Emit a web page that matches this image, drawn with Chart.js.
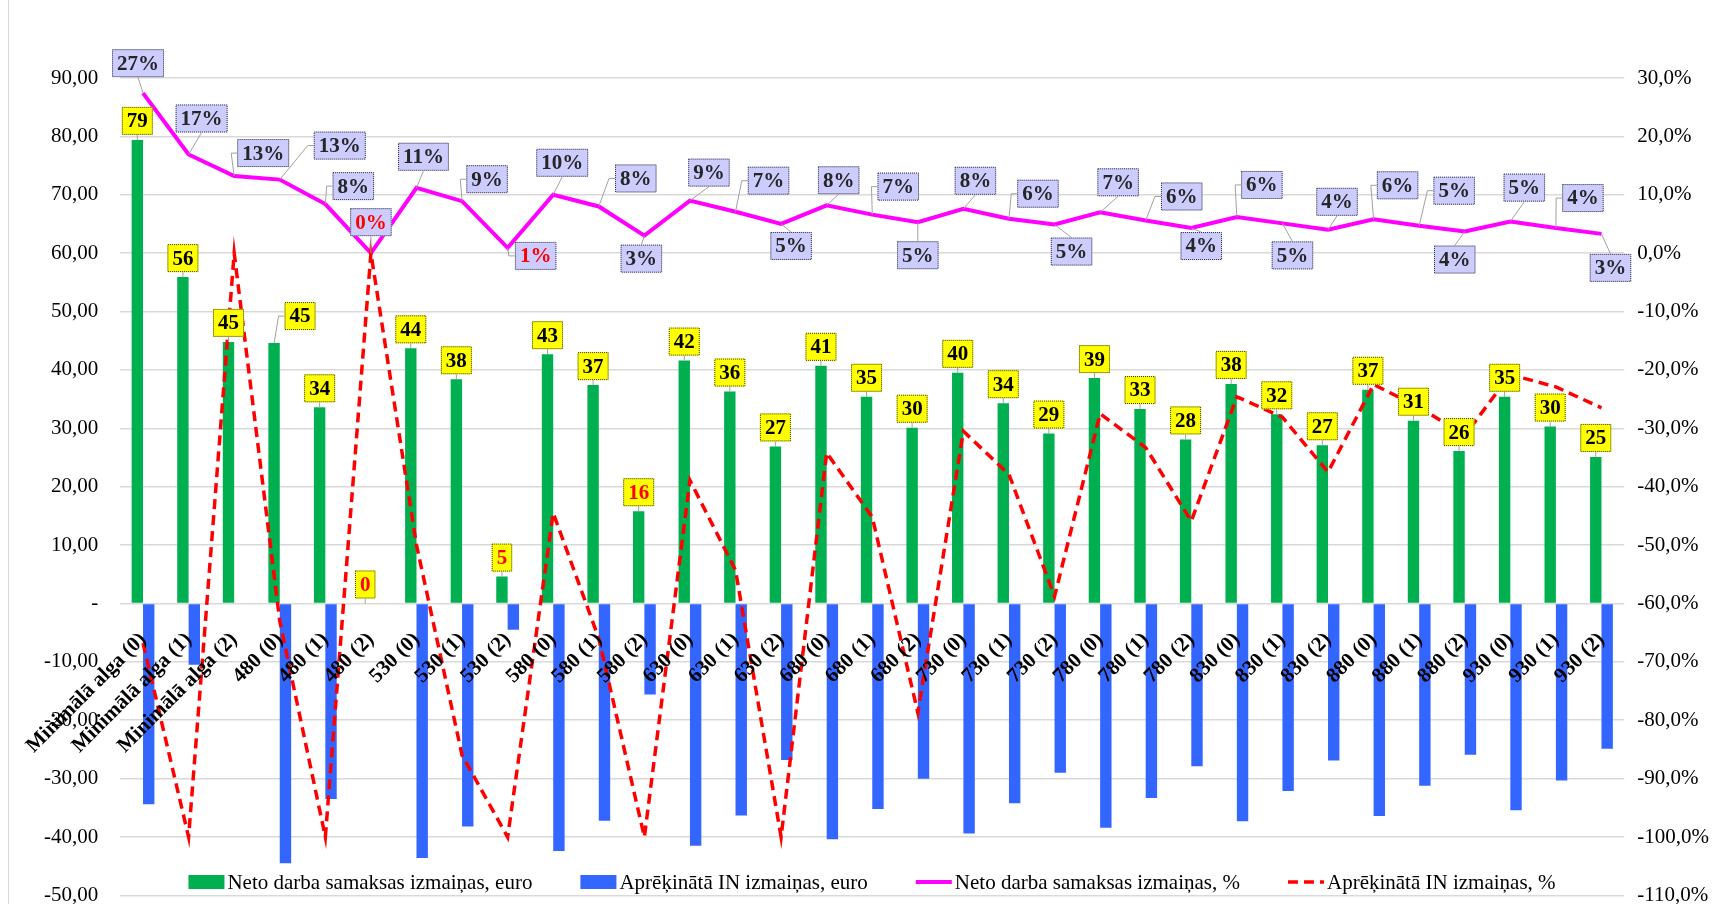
<!DOCTYPE html>
<html>
<head>
<meta charset="utf-8">
<script src="https://cdn.jsdelivr.net/npm/chart.js@4.4.1/dist/chart.umd.min.js"></script>
<style>
  html, body { margin: 0; padding: 0; background: #fff; overflow: hidden; }
  #frame { width: 1730px; height: 904px; overflow: hidden; }
  #wrap { position: relative; width: 1730px; height: 930px; }
</style>
</head>
<body>
<div id="frame"><div id="wrap"><canvas id="chart"></canvas></div></div>
<script>
// categories (x axis)
const categories = [
  'Minimālā alga (0)', 'Minimālā alga (1)', 'Minimālā alga (2)',
  '480 (0)', '480 (1)', '480 (2)',
  '530 (0)', '530 (1)', '530 (2)',
  '580 (0)', '580 (1)', '580 (2)',
  '630 (0)', '630 (1)', '630 (2)',
  '680 (0)', '680 (1)', '680 (2)',
  '730 (0)', '730 (1)', '730 (2)',
  '780 (0)', '780 (1)', '780 (2)',
  '830 (0)', '830 (1)', '830 (2)',
  '880 (0)', '880 (1)', '880 (2)',
  '930 (0)', '930 (1)', '930 (2)'
];

// Neto darba samaksas izmaiņas, euro
const netoEuro = [79.4, 55.9, 44.8, 44.6, 33.6, 0, 43.7, 38.4, 4.6, 42.7, 37.4, 15.8,
  41.6, 36.3, 26.9, 40.7, 35.4, 30.1, 39.5, 34.3, 29.1, 38.6, 33.3, 28.1,
  37.6, 32.4, 27.1, 36.6, 31.3, 26.1, 35.4, 30.3, 25.1];

// Aprēķinātā IN izmaiņas, euro
const inEuro = [-34.4, -10.5, 0, -44.5, -33.5, 0, -43.6, -38.2, -4.5, -42.4, -37.2, -15.6,
  -41.5, -36.3, -26.8, -40.4, -35.2, -30.0, -39.4, -34.2, -29.0, -38.4, -33.3, -27.9,
  -37.3, -32.1, -26.9, -36.4, -31.2, -25.9, -35.4, -30.3, -24.9];

// Neto darba samaksas izmaiņas, %
const netoPct = [27.4, 16.9, 13.2, 12.6, 8.4, 0, 11.2, 8.9, 0.9, 10.0, 8.0, 3.0,
  9.0, 7.1, 5.0, 8.2, 6.6, 5.3, 7.6, 5.9, 4.9, 7.0, 5.6, 4.3,
  6.2, 5.1, 4.0, 5.8, 4.7, 3.7, 5.4, 4.3, 3.3];

// Aprēķinātā IN izmaiņas, %
const inPct = [-66.8, -100, 0, -63, -100, 0, -50, -86, -100, -44.5, -66, -100,
  -38.9, -54.3, -100, -34.2, -45.2, -78.7, -30.5, -37.9, -58.8, -27.5, -33.3, -45.9,
  -24.6, -28.1, -37.5, -22.5, -26.4, -31.2, -20.8, -22.9, -26.5];

const leftTicks = { min: -50, max: 90, step: 10 };
const rightTicks = { min: -110, max: 30, step: 10 };

// label styling
const redLabelIdx = [5, 8, 11];
const pctRedIdx = [5, 8];
const pctLabelOffset = [[-5,-30],[13,-36],[29,-23],[60,-34],[28,-18],[0,-31],[7,-31],[25,-22],
  [28,8],[9,-32],[37,-28],[-3,23],[19,-28],[33,-31],[10,22],[12,-25],[26,-28],[0,33],
  [12,-28],[29,-25],[17,27],[18,-30],[36,-24],[10,18],[25,-32],[10,32],[9,-28],[24,-34],
  [35,-35],[-10,28],[14,-34],[27,-30],[9,34]];
const euroLabelOffset = { 3: [26, -27] };

const serif = '"Liberation Serif", "Times New Roman", serif';

function drawBox(ctx, px, py, cx, cy, text, fill, color) {
  const w = ctx.measureText(text).width + 10;
  const h = 28;
  const l = cx - w / 2, t = cy - h / 2;
  // leader line
  ctx.save();
  ctx.strokeStyle = '#a0a0a0';
  ctx.lineWidth = 1;
  ctx.beginPath();
  if (px < l - 2) {
    ctx.moveTo(px, py);
    ctx.lineTo(l - 6, cy);
    ctx.lineTo(l, cy);
    ctx.stroke();
  } else if (py > t + h + 3) {
    ctx.moveTo(px, py);
    ctx.lineTo(cx, t + h);
    ctx.stroke();
  } else if (py < t - 3) {
    ctx.moveTo(px, py);
    ctx.lineTo(cx, t);
    ctx.stroke();
  }
  ctx.restore();
  ctx.fillStyle = fill;
  ctx.fillRect(l, t, w, h);
  ctx.save();
  ctx.setLineDash([1, 1]);
  ctx.strokeStyle = '#333';
  ctx.lineWidth = 1;
  ctx.strokeRect(l + 0.5, t + 0.5, w - 1, h - 1);
  ctx.restore();
  ctx.fillStyle = color;
  ctx.fillText(text, cx, cy + 1);
}

const valueBoxes = {
  id: 'valueBoxes',
  afterDatasetsDraw(chart) {
    const ctx = chart.ctx;
    ctx.save();
    ctx.font = 'bold 21px ' + serif;
    ctx.textAlign = 'center';
    ctx.textBaseline = 'middle';
    chart.getDatasetMeta(0).data.forEach((bar, i) => {
      const off = euroLabelOffset[i] || [0, -19];
      const txt = String(Math.round(netoEuro[i]));
      drawBox(ctx, bar.x, bar.y, bar.x + off[0], bar.y + off[1], txt, '#ffff00',
        redLabelIdx.includes(i) ? '#ff0000' : '#000');
    });
    chart.getDatasetMeta(2).data.forEach((pt, i) => {
      const off = pctLabelOffset[i];
      const txt = Math.round(netoPct[i]) + '%';
      drawBox(ctx, pt.x, pt.y, pt.x + off[0], pt.y + off[1], txt, '#ccccff',
        pctRedIdx.includes(i) ? '#ff0000' : '#262626');
    });
    ctx.restore();
  }
};

const bottomLegend = {
  id: 'bottomLegend',
  afterDraw(chart) {
    const ctx = chart.ctx;
    ctx.save();
    // frame line on the left
    ctx.strokeStyle = '#d9d9d9';
    ctx.lineWidth = 1;
    ctx.beginPath();
    ctx.moveTo(8.5, 0);
    ctx.lineTo(8.5, 904);
    ctx.stroke();

    ctx.font = '21px ' + serif;
    ctx.textBaseline = 'middle';
    ctx.textAlign = 'left';
    const items = chart.data.datasets.map(ds => ({
      ds, w: 36 + 3 + ctx.measureText(ds.label).width
    }));
    const gap = 48;
    const total = items.reduce((s, it) => s + it.w, 0) + gap * (items.length - 1);
    let x = 872 - total / 2;
    const y = 882;
    items.forEach(it => {
      const ds = it.ds;
      if (ds.type === 'bar') {
        ctx.fillStyle = ds.backgroundColor;
        ctx.fillRect(x, y - 7, 36, 14);
      } else {
        ctx.strokeStyle = ds.borderColor;
        ctx.lineWidth = ds.borderWidth;
        ctx.setLineDash(ds.borderDash || []);
        ctx.beginPath();
        ctx.moveTo(x, y);
        ctx.lineTo(x + 36, y);
        ctx.stroke();
        ctx.setLineDash([]);
      }
      ctx.fillStyle = '#000';
      ctx.fillText(ds.label, x + 39, y + 1);
      x += it.w + gap;
    });
    ctx.restore();
  }
};

new Chart(document.getElementById('chart'), {
  data: {
    labels: categories,
    datasets: [
      {
        type: 'bar',
        label: 'Neto darba samaksas izmaiņas, euro',
        data: netoEuro,
        backgroundColor: '#00b050',
        yAxisID: 'y',
        order: 3,
        categoryPercentage: 0.5,
        barPercentage: 1.0
      },
      {
        type: 'bar',
        label: 'Aprēķinātā IN izmaiņas, euro',
        data: inEuro,
        backgroundColor: '#3366ff',
        yAxisID: 'y',
        order: 4,
        categoryPercentage: 0.5,
        barPercentage: 1.0
      },
      {
        type: 'line',
        label: 'Neto darba samaksas izmaiņas, %',
        data: netoPct,
        borderColor: '#ff00ff',
        borderWidth: 4,
        pointRadius: 0,
        tension: 0,
        yAxisID: 'y1',
        order: 2
      },
      {
        type: 'line',
        label: 'Aprēķinātā IN izmaiņas, %',
        data: inPct,
        borderColor: '#ff0000',
        borderWidth: 3.5,
        borderDash: [10, 6],
        pointRadius: 0,
        tension: 0,
        yAxisID: 'y1',
        order: 1
      }
    ]
  },
  options: {
    responsive: true,
    maintainAspectRatio: false,
    animation: false,
    layout: { padding: { top: 78, left: 22, right: 8, bottom: 0 } },
    plugins: {
      legend: { display: false },
      tooltip: { enabled: false }
    },
    scales: {
      x: {
        position: { y: 0 },
        grid: { display: false, drawTicks: false },
        border: { display: false },
        ticks: {
          z: 1,
          autoSkip: false,
          minRotation: 45,
          maxRotation: 45,
          padding: 24,
          labelOffset: 0,
          color: '#000',
          font: { family: serif, size: 21, weight: 'bold' }
        }
      },
      y: {
        position: 'left',
        min: leftTicks.min,
        max: leftTicks.max,
        grid: { color: '#d9d9d9', lineWidth: 1.5, drawTicks: false },
        border: { display: false },
        ticks: {
          stepSize: leftTicks.step,
          padding: 22,
          color: '#000',
          font: { family: serif, size: 21 },
          callback: v => v === 0 ? '-' : v.toFixed(2).replace('.', ',')
        }
      },
      y1: {
        position: 'right',
        min: rightTicks.min,
        max: rightTicks.max,
        grid: { drawOnChartArea: false, drawTicks: false },
        border: { display: false },
        ticks: {
          stepSize: rightTicks.step,
          padding: 13,
          color: '#000',
          font: { family: serif, size: 21 },
          callback: v => v.toFixed(1).replace('.', ',') + '%'
        }
      }
    }
  },
  plugins: [valueBoxes, bottomLegend]
});
</script>
</body>
</html>
